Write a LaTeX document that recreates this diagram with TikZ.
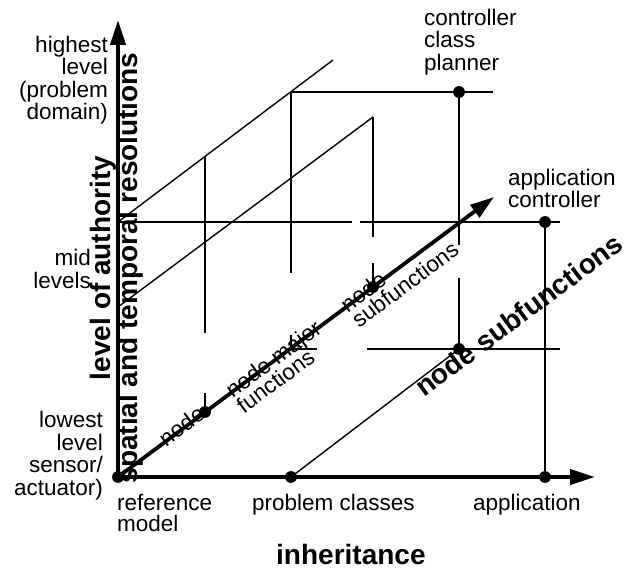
\documentclass[tikz,border=0pt]{standalone}
\usepackage{fontspec}
\setmainfont{Liberation Sans}
\usetikzlibrary{arrows.meta}

\newcommand\diagfont{\fontsize{22.5}{19}\selectfont\lineskiplimit=-8pt\relax}

\tikzset{
  axis/.style={line width=4pt, -{Triangle[length=25pt,width=15pt]}},
  diag axis/.style={line width=3.8pt, -{Triangle[length=24pt,width=15pt]}},
  thin/.style={line width=1.4pt},
  dot/.style={circle, fill, inner sep=0pt, minimum size=11.5pt},
  lbl/.style={font=\fontsize{22.5}{22.5}\selectfont, inner sep=0pt},
  big lbl/.style={font=\bfseries\fontsize{28}{30}\selectfont, inner sep=0pt},
  diag lbl/.style={font=\diagfont, inner sep=0pt, rotate=36.7, anchor=base west, align=left},
}

\begin{document}
\begin{tikzpicture}[x=1pt, y=1pt]
    \useasboundingbox (0,0) rectangle (632,573);

    % --- Points on the axes and the lattice ---
    \node[dot] (ref) at (118,96) {};
    \node[dot] (pclass) at (291,96) {};
    \node[dot] (app) at (545,96) {};
    \node[dot] (n1) at (205,161) {};
    \node[dot] (n3) at (373,286) {};
    \node[dot] (pcnode) at (459,224) {};
    \node[dot] (appctl) at (545,351) {};
    \node[dot] (planner) at (459,481) {};

    \coordinate (xend) at (595,96);
    \coordinate (yend) at (118,553);
    \coordinate (tip) at (494,376);
    \coordinate (mid) at (118,351);
    \coordinate (midGapL) at (352,351);
    \coordinate (midGapR) at (360,351);
    \coordinate (midR) at (560,351);
    \coordinate (topL) at (291,481);
    \coordinate (topR) at (493,481);
    \coordinate (lowL) at (291,224);
    \coordinate (lowTick) at (317,224);
    \coordinate (lowStart) at (367,224);
    \coordinate (lowR) at (560,224);
    \coordinate (aEnd) at (333,513);
    \coordinate (bStart) at (118,266);
    \coordinate (bEnd) at (373,456);
    \coordinate (v1Top) at (205,416);
    \coordinate (v1GapT) at (205,240);
    \coordinate (v1GapB) at (205,180);
    \coordinate (v2GapT) at (291,300);
    \coordinate (v2GapB) at (291,238);
    \coordinate (v3GapT) at (373,336);
    \coordinate (v3GapB) at (373,310);
    \coordinate (v4GapT) at (459,328);
    \coordinate (v4GapB) at (459,295);

    % --- Level lines ---
    \draw[thin] (mid) -- (midGapL);
    \draw[thin] (midGapR) -- (midR);
    \draw[thin] (topL) -- (topR);
    \draw[thin] (lowL) -- (lowTick);
    \draw[thin] (lowStart) -- (lowR);

    % --- Slanted lines ---
    \draw[thin] (mid) -- (aEnd);
    \draw[thin] (bStart) -- (bEnd);
    \draw[thin] (pclass.center) -- (pcnode.center);

    % --- Uprights (broken behind the labels) ---
    \draw[thin] (v1Top) -- (v1GapT);
    \draw[thin] (v1GapB) -- (n1.center);
    \draw[thin] (topL) -- (v2GapT);
    \draw[thin] (v2GapB) -- (lowL);
    \draw[thin] (bEnd) -- (v3GapT);
    \draw[thin] (v3GapB) -- (n3.center);
    \draw[thin] (planner.center) -- (v4GapT);
    \draw[thin] (v4GapB) -- (pcnode.center);
    \draw[thin] (appctl.center) -- (app.center);

    % --- Level labels (left) ---
    \node[lbl, anchor=north east, align=right] (highest) at (108,537) {highest\\level\\(problem\\domain)};
    \node[lbl, anchor=north east, align=right] (midlev) at (91,324) {mid\\levels};
    \node[lbl, anchor=north east, align=right] (lowest) at (103,162) {lowest\\level\\sensor/\\actuator)};

    % --- Class labels (bottom, top) ---
    \node[lbl, font=\fontsize{22.5}{21}\selectfont, anchor=north west, align=left] (refmodel) at (117,79) {reference\\model};
    \node[lbl, anchor=north west] (probcl) at (252,79) {problem classes};
    \node[lbl, anchor=north west] (applic) at (473,79) {application};
    \node[lbl, anchor=north west, align=left] (ctrl) at (424,564) {controller\\class\\planner};
    \node[lbl, font=\fontsize{22.5}{20}\selectfont, anchor=north west, align=left] (appctrl) at (508,404) {application\\controller};

    % --- Axis titles ---
    \node[big lbl, anchor=base west] (inherit) at (276,8) {inheritance};
    \node[big lbl, rotate=90, anchor=base] (authority) at (110,305) {level of authority};
    \node[big lbl, rotate=90, anchor=base] (resol) at (137,305) {spatial and temporal resolutions};
    \node[big lbl, rotate=36.7, anchor=base west] (subfn) at (424,175) {node subfunctions};

    % --- Labels along the node axis (base = last line) ---
    \node[diag lbl] (nodeA) at (166.0,125.5) {node};
    \node[diag lbl] (nodeB) at (244.0,158.7) {node major\\functions};
    \node[diag lbl] (nodeC) at (359.0,244.4) {node\\subfunctions};

    % --- Axes ---
    \draw[axis] (ref.center) -- (xend);
    \draw[axis] (ref.center) -- (yend);
    \draw[diag axis] (ref.center) -- (tip);

    % dots on top
    \foreach \p in {ref, pclass, app, n1, n3, pcnode, appctl, planner}
        \fill (\p) circle (5.75pt);

\end{tikzpicture}
\end{document}
